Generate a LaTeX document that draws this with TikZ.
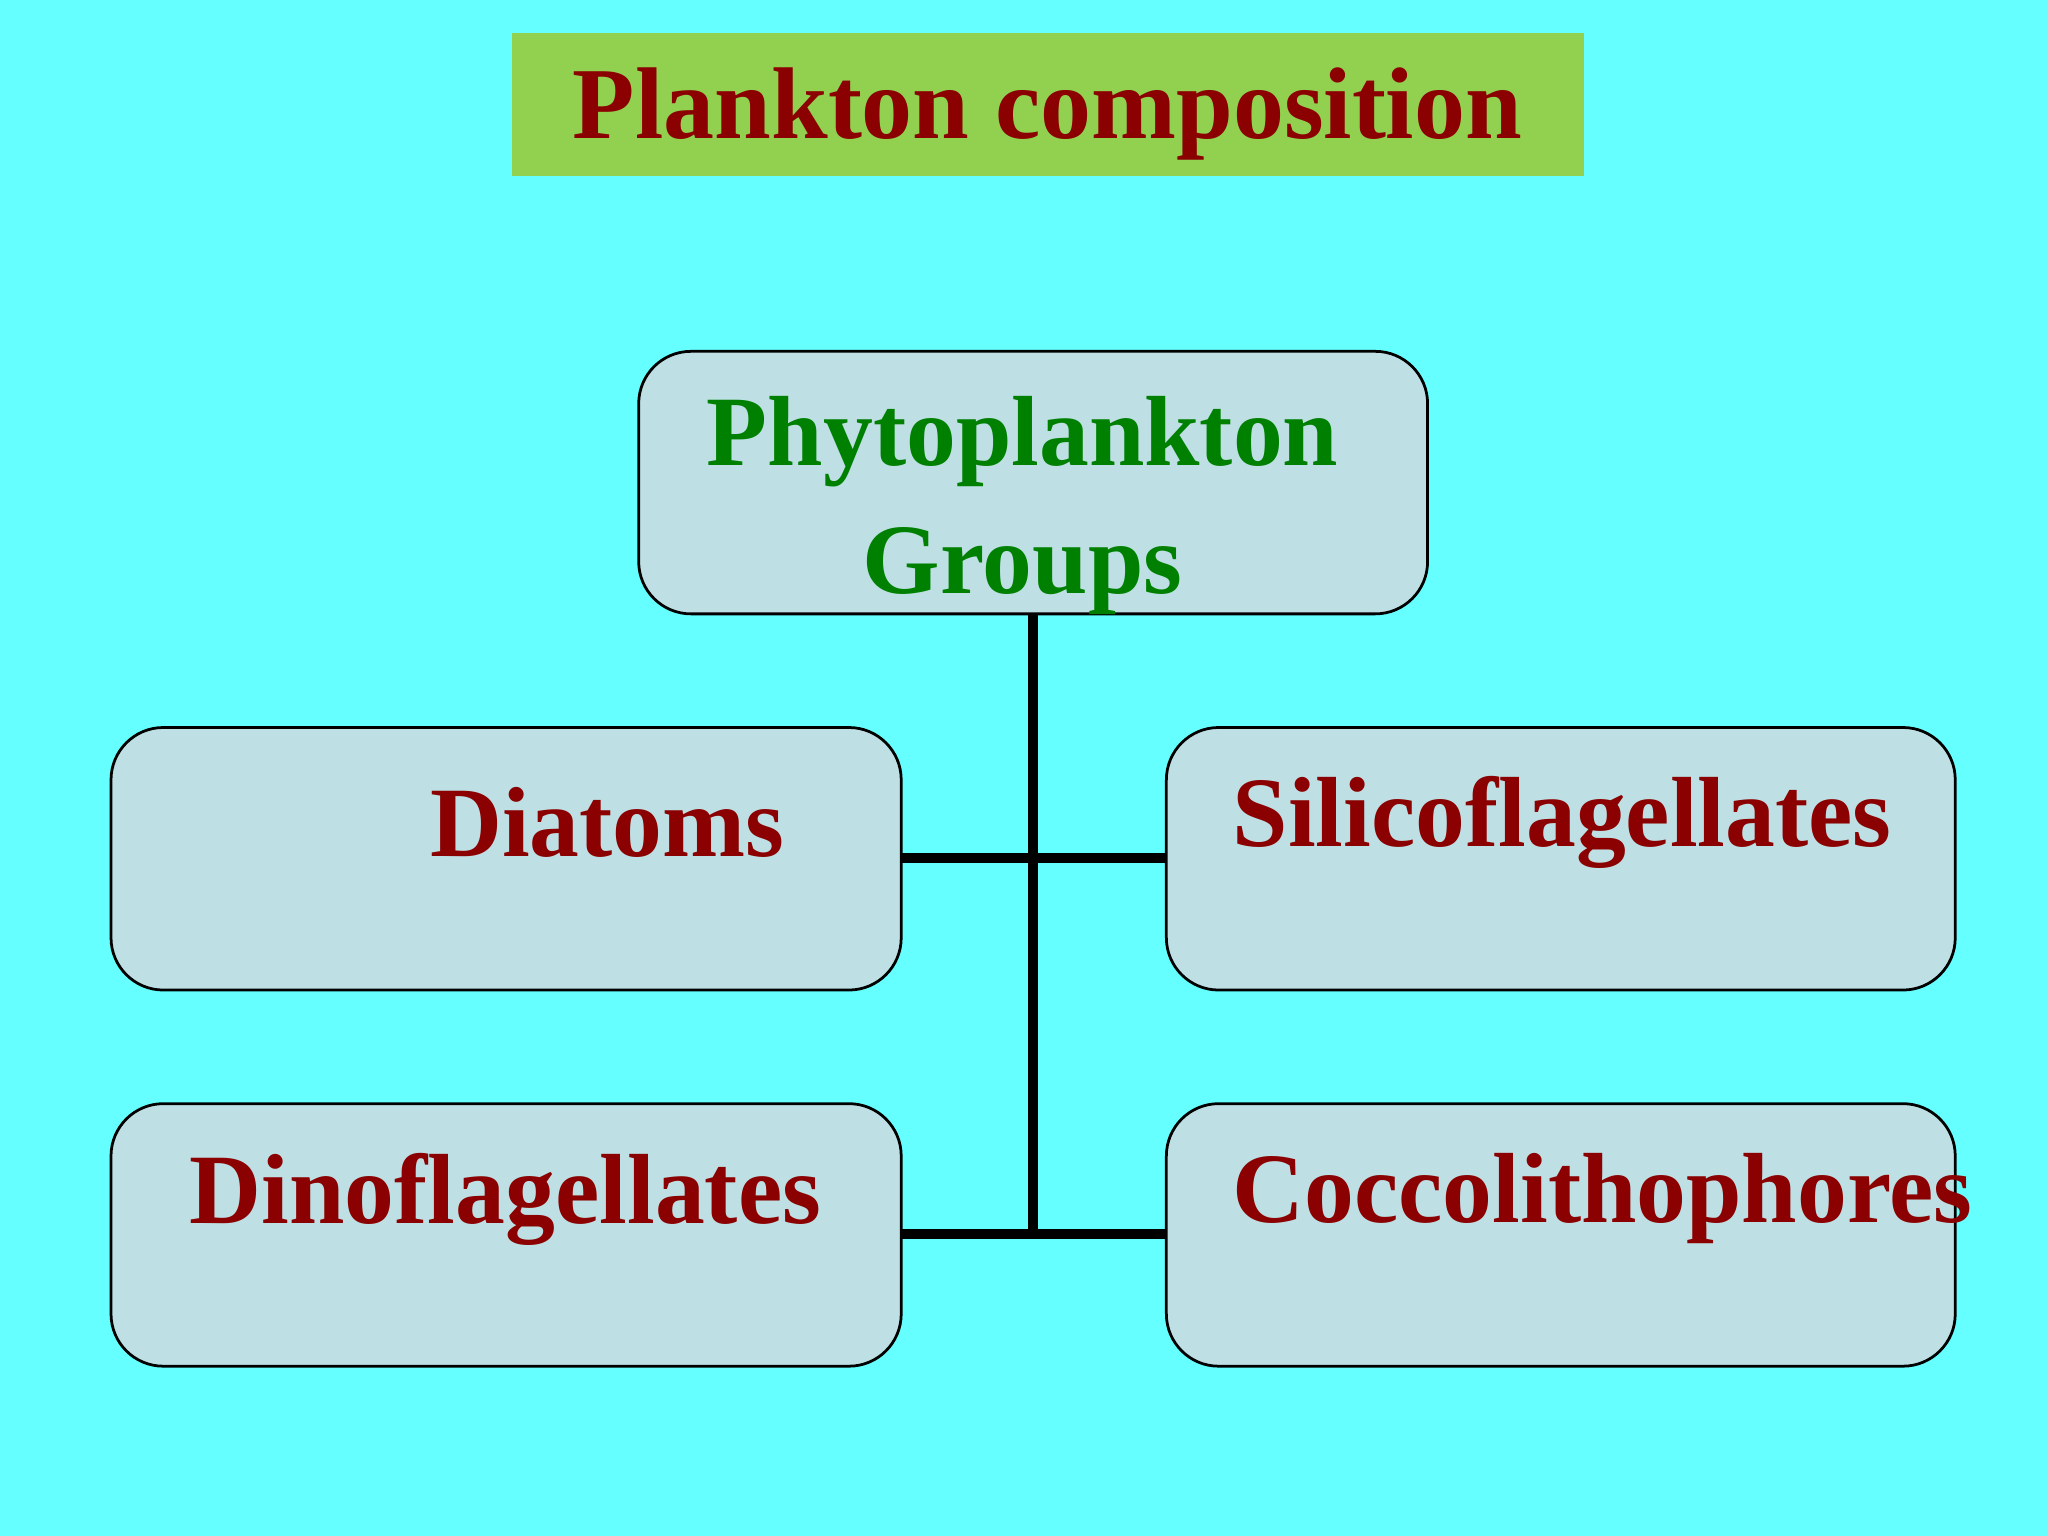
\documentclass[tikz,border=0pt]{standalone}
\usepackage{fontspec}
\setmainfont{Liberation Serif}
\definecolor{bg}{RGB}{102,255,255}
\definecolor{tgreen}{RGB}{146,208,80}
\definecolor{boxfill}{RGB}{190,224,228}
\definecolor{dred}{RGB}{139,0,0}
\definecolor{dgreen}{RGB}{0,128,0}
\begin{document}
\begin{tikzpicture}[x=0.01cm,y=-0.01cm,
  gbox/.style={draw=black,line width=0.6pt,fill=boxfill,rounded corners=0.4cm},
  lbl/.style={font=\fontsize{21.7}{28}\selectfont\bfseries,text=dred},
  conn/.style={line width=0.075cm}]
\fill[bg] (0,0) rectangle (1568,1176);
\useasboundingbox (0,0) rectangle (1568,1176);
\fill[tgreen] (392,25) rectangle (1213,135);
\node[lbl,font=\fontsize{22.2}{28}\selectfont\bfseries] (title) at (802,87) {Plankton composition};
\draw[gbox] (489,269) rectangle (1093,470);
\node[lbl,text=dgreen,align=center] (phy) at (783,387) {Phytoplankton\\Groups};
\draw[gbox] (85,557) rectangle (690,758);
\draw[gbox] (893,557) rectangle (1497,758);
\draw[gbox] (85,845) rectangle (690,1046);
\draw[gbox] (893,845) rectangle (1497,1046);
\node[lbl] (dia) at (465,630) {Diatoms};
\node[lbl] (sil) at (1196,630) {Silicoflagellates};
\node[lbl] (din) at (387,918) {Dinoflagellates};
\node[lbl] (coc) at (1227,918) {Coccolithophores};
\coordinate (top) at (791,470);
\coordinate (j1) at (791,657);
\coordinate (j2) at (791,945);
\draw[conn] (top) -- (j2);
\draw[conn] (690,657) -- (893,657);
\draw[conn] (690,945) -- (893,945);
\end{tikzpicture}
\end{document}
